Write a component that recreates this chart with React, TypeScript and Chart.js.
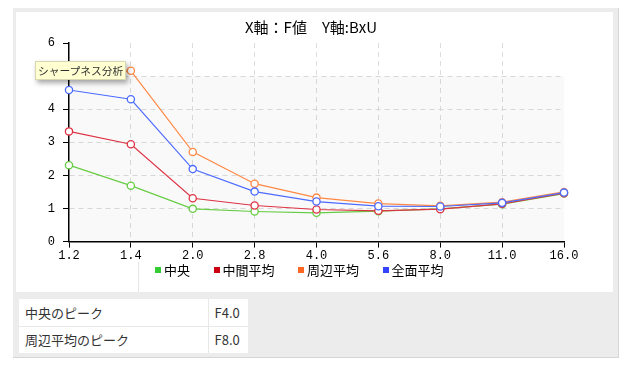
import React, { useEffect, useRef } from "react";
import { Chart, registerables } from "chart.js";

Chart.register(...registerables);

const fNumbers = ["1.2", "1.4", "2.0", "2.8", "4.0", "5.6", "8.0", "11.0", "16.0"];
const seriesNames = ["中央", "中間平均", "周辺平均", "全面平均"];
const centerValues = [2.31, 1.69, 0.99, 0.91, 0.87, 0.92, 0.99, 1.13, 1.45];
const middleValues = [3.33, 2.94, 1.31, 1.09, 0.97, 0.93, 0.98, 1.14, 1.46];
const edgeValues = [5.05, 5.16, 2.71, 1.75, 1.33, 1.15, 1.08, 1.19, 1.5];
const totalValues = [4.58, 4.3, 2.19, 1.51, 1.21, 1.07, 1.06, 1.17, 1.48];
const lineColors = ["#66cc44", "#dd3344", "#ff8844", "#4d6bff"];
const legendColors = ["#33cc33", "#cc0011", "#ff6622", "#3344ff"];
const yMin = 0;
const yMax = 6;
const yStep = 1;
const titleText = "X軸：F値　Y軸:BxU";
const tooltipText = "シャープネス分析";
const peakRows = [
  ["中央のピーク", "F4.0"],
  ["周辺平均のピーク", "F8.0"],
];

const allValues = [centerValues, middleValues, edgeValues, totalValues];

const bandPlugin = {
  id: "band",
  beforeDatasetsDraw(chart: any) {
    const { ctx, chartArea, scales } = chart;
    const y = scales.y;
    const top = y.getPixelForValue(5);
    const bottom = y.getPixelForValue(0);
    ctx.save();
    ctx.fillStyle = "rgba(0,0,0,0.022)";
    ctx.fillRect(chartArea.left, top, chartArea.right - chartArea.left, bottom - top);
    ctx.restore();
  },
};

function SharpnessChart() {
  const ref = useRef<HTMLCanvasElement | null>(null);
  useEffect(() => {
    if (!ref.current) return;
    const chart = new Chart(ref.current, {
      type: "line",
      data: {
        labels: fNumbers,
        datasets: allValues.map((vals, i) => ({
          label: seriesNames[i],
          data: vals,
          borderColor: lineColors[i],
          backgroundColor: lineColors[i],
          borderWidth: 1.2,
          pointRadius: 3.6,
          pointBorderWidth: 1.3,
          pointBackgroundColor: "#ffffff",
          pointBorderColor: lineColors[i],
          tension: 0,
          order: 4 - i,
        })),
      },
      options: {
        responsive: false,
        animation: false,
        devicePixelRatio: 1,
        layout: { padding: { left: 28, right: 49, top: 31, bottom: 28 } },
        plugins: {
          legend: { display: false },
          tooltip: { enabled: false },
          title: { display: false },
        },
        scales: {
          x: {
            type: "category",
            offset: false,
            grid: {
              color: (c: any) => (c.index === 0 || c.index === fNumbers.length - 1 ? "rgba(0,0,0,0)" : "#dddddd"),
              tickColor: "#000",
              tickLength: 6,
              lineWidth: 1,
            },
            border: { color: "#000", width: 1.5, dash: [5, 4] },
            ticks: {
              color: "#000",
              padding: 1,
              maxRotation: 0,
              autoSkip: false,
              font: { family: "'Liberation Mono'", size: 12 },
            },
          },
          y: {
            min: yMin,
            max: yMax,
            afterFit: (s: any) => {
              s.width = 25;
            },
            grid: {
              color: (c: any) => (c.tick && (c.tick.value === yMax || c.tick.value === yMin) ? "rgba(0,0,0,0)" : "#dddddd"),
              tickColor: "#000",
              tickLength: 6,
              lineWidth: 1,
            },
            border: { color: "#000", width: 1.5, dash: [5, 4] },
            ticks: {
              color: "#000",
              padding: 8,
              stepSize: yStep,
              autoSkip: false,
              font: { family: "'Liberation Mono'", size: 12 },
            },
          },
        },
      },
      plugins: [bandPlugin],
    } as any);
    return () => chart.destroy();
  }, []);
  return <canvas ref={ref} width={597} height={280} style={{ width: 597, height: 280, display: "block" }} />;
}

export default function App() {
  const cjk = "'Noto Sans CJK JP', sans-serif";
  return (
    <div>
      <div
        style={{
          position: "absolute",
          left: 13,
          top: 8,
          width: 605,
          height: 349,
          background: "#ececec",
          borderRight: "1px solid #d6d6d6",
          borderBottom: "1px solid #d6d6d6",
        }}
      />
      <div style={{ position: "absolute", left: 16, top: 12, width: 597, height: 280, background: "#fff" }}>
        <SharpnessChart />
        <div
          style={{
            position: "absolute",
            left: 0,
            top: 5,
            width: 590,
            textAlign: "center",
            fontFamily: cjk,
            fontSize: 15,
            lineHeight: "20px",
            color: "#000",
            whiteSpace: "pre",
          }}
        >
          {titleText}
        </div>
        <div style={{ position: "absolute", left: 122, top: 250, width: 1, height: 30, background: "#e6e6e6" }} />
        <div
          style={{
            position: "absolute",
            left: 139,
            top: 250,
            display: "flex",
            alignItems: "center",
            gap: 23.5,
            fontFamily: cjk,
            fontSize: 13,
            lineHeight: "16px",
            color: "#000",
            whiteSpace: "nowrap",
          }}
        >
          {seriesNames.map((n, i) => (
            <div key={n} style={{ display: "flex", alignItems: "center" }}>
              <span style={{ width: 6, height: 6, background: legendColors[i], marginRight: 3, display: "inline-block" }} />
              <span>{n}</span>
            </div>
          ))}
        </div>
      </div>
      <div
        style={{
          position: "absolute",
          left: 35,
          top: 61,
          height: 17,
          padding: "0 2px",
          background: "#ffffd2",
          border: "1px solid #d8d8b0",
          boxShadow: "2px 3px 5px rgba(0,0,0,0.35)",
          fontFamily: cjk,
          fontSize: 10.75,
          lineHeight: "17px",
          color: "#333",
          whiteSpace: "nowrap",
        }}
      >
        {tooltipText}
      </div>
      <table
        style={{
          position: "absolute",
          left: 19,
          top: 299,
          borderCollapse: "collapse",
          fontFamily: cjk,
          fontSize: 13,
          color: "#333",
          background: "#fff",
        }}
      >
        <tbody>
          {peakRows.map((r, i) => (
            <tr key={i} style={{ height: 27, borderTop: i > 0 ? "1px solid #e8e8e8" : "none" }}>
              <td style={{ width: 189, padding: "0 0 0 6px", boxSizing: "border-box", borderRight: "1px solid #e8e8e8" }}>{r[0]}</td>
              <td style={{ width: 40, padding: "0 0 0 6px", boxSizing: "border-box" }}>{r[1]}</td>
            </tr>
          ))}
        </tbody>
      </table>
    </div>
  );
}
